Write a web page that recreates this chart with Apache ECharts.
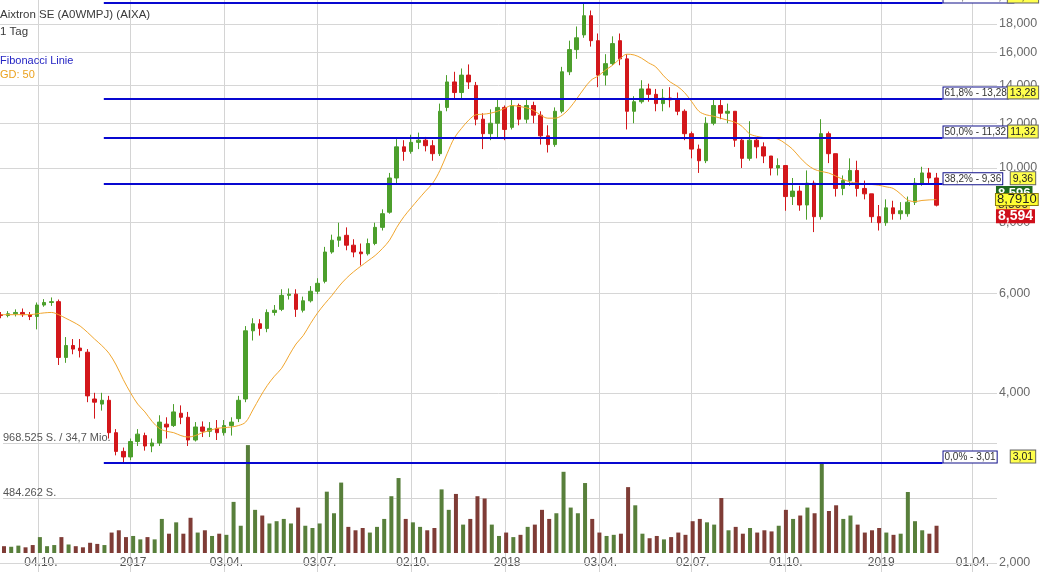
<!DOCTYPE html>
<html><head><meta charset="utf-8">
<script src="https://cdn.jsdelivr.net/npm/echarts@6/dist/echarts.min.js"></script>
<style>html,body{margin:0;padding:0;background:#fff}#c{width:1040px;height:572px}</style>
</head><body><div id="c"></div>
<script>
// ---- data (weekly samples) ----
const dates = [
'2016-08-29','2016-09-05','2016-09-12','2016-09-19','2016-09-26','2016-10-03','2016-10-10','2016-10-17','2016-10-24','2016-10-31',
'2016-11-07','2016-11-14','2016-11-21','2016-11-28','2016-12-05','2016-12-12','2016-12-19','2016-12-26','2017-01-02','2017-01-09',
'2017-01-16','2017-01-23','2017-01-30','2017-02-06','2017-02-13','2017-02-20','2017-02-27','2017-03-06','2017-03-13','2017-03-20',
'2017-03-27','2017-04-03','2017-04-10','2017-04-17','2017-04-24','2017-05-01','2017-05-08','2017-05-15','2017-05-22','2017-05-29',
'2017-06-05','2017-06-12','2017-06-19','2017-06-26','2017-07-03','2017-07-10','2017-07-17','2017-07-24','2017-07-31','2017-08-07',
'2017-08-14','2017-08-21','2017-08-28','2017-09-04','2017-09-11','2017-09-18','2017-09-25','2017-10-02','2017-10-09','2017-10-16',
'2017-10-23','2017-10-30','2017-11-06','2017-11-13','2017-11-20','2017-11-27','2017-12-04','2017-12-11','2017-12-18','2017-12-25',
'2018-01-01','2018-01-08','2018-01-15','2018-01-22','2018-01-29','2018-02-05','2018-02-12','2018-02-19','2018-02-26','2018-03-05',
'2018-03-12','2018-03-19','2018-03-26','2018-04-02','2018-04-09','2018-04-16','2018-04-23','2018-04-30','2018-05-07','2018-05-14',
'2018-05-21','2018-05-28','2018-06-04','2018-06-11','2018-06-18','2018-06-25','2018-07-02','2018-07-09','2018-07-16','2018-07-23',
'2018-07-30','2018-08-06','2018-08-13','2018-08-20','2018-08-27','2018-09-03','2018-09-10','2018-09-17','2018-09-24','2018-10-01',
'2018-10-08','2018-10-15','2018-10-22','2018-10-29','2018-11-05','2018-11-12','2018-11-19','2018-11-26','2018-12-03','2018-12-10',
'2018-12-17','2018-12-24','2018-12-31','2019-01-07','2019-01-14','2019-01-21','2019-01-28','2019-02-04','2019-02-11','2019-02-18',
'2019-02-25'];
const open = [
5.50,5.48,5.52,5.55,5.50,5.46,5.72,5.78,5.80,4.62,
4.85,4.80,4.72,3.90,3.82,3.88,3.40,3.15,3.08,3.28,
3.36,3.22,3.26,3.52,3.50,3.68,3.62,3.30,3.48,3.42,
3.46,3.40,3.50,3.60,3.90,5.15,5.30,5.20,5.55,5.62,
5.95,5.98,5.60,5.82,6.05,6.30,7.10,7.45,7.60,7.30,
7.10,7.05,7.35,7.85,8.35,9.60,10.90,10.70,11.10,11.20,
10.95,10.60,12.80,14.20,13.60,14.60,14.00,12.20,11.50,12.00,
12.80,11.80,12.90,12.20,12.90,12.40,11.40,11.00,12.60,14.80,
16.20,17.20,18.60,16.80,14.60,15.30,16.80,15.60,12.60,13.10,
13.80,13.50,13.00,13.30,13.20,12.60,11.50,10.80,10.30,12.00,
12.90,12.50,12.60,11.20,10.40,11.20,10.90,10.50,10.00,10.10,
8.90,9.10,8.60,9.40,8.20,11.50,10.60,9.20,9.50,9.90,
9.20,9.00,8.20,8.00,8.50,8.30,8.30,8.70,9.40,9.80,
9.60];
const close = [
5.48,5.52,5.55,5.50,5.46,5.72,5.78,5.80,4.62,4.85,
4.78,4.75,3.95,3.85,3.88,3.40,3.15,3.08,3.28,3.38,
3.22,3.26,3.55,3.48,3.70,3.62,3.30,3.48,3.42,3.46,
3.40,3.50,3.55,3.88,5.15,5.30,5.20,5.55,5.60,5.95,
5.98,5.62,5.82,6.05,6.25,7.10,7.45,7.55,7.30,7.10,
7.05,7.35,7.85,8.30,9.60,10.90,10.70,11.10,11.20,10.95,
10.60,12.60,14.20,13.60,14.60,14.20,12.20,11.50,12.00,12.80,
11.70,12.90,12.20,12.90,12.40,11.40,11.00,12.60,14.80,16.20,
17.00,18.60,16.80,14.60,15.30,16.60,15.60,12.60,13.10,13.80,
13.50,13.00,13.30,13.20,12.60,11.50,10.80,10.30,12.00,12.90,
12.50,12.60,11.20,10.40,11.20,10.90,10.50,10.00,10.10,8.90,
9.10,8.60,9.40,8.20,11.50,10.60,9.20,9.50,9.90,9.20,
9.00,8.20,8.00,8.50,8.30,8.40,8.70,9.40,9.80,9.60,
8.594];
const low = [
5.42,5.44,5.46,5.45,5.38,5.18,5.68,5.70,4.48,4.52,
4.68,4.62,3.85,3.60,3.72,3.32,3.10,3.01,3.04,3.22,
3.16,3.14,3.22,3.32,3.48,3.52,3.22,3.28,3.34,3.34,
3.30,3.36,3.36,3.55,3.85,4.95,5.05,5.12,5.48,5.58,
5.85,5.45,5.55,5.78,5.98,6.25,7.05,7.25,7.15,6.95,
6.72,7.00,7.30,7.75,8.30,9.40,10.30,10.60,10.80,10.70,
10.30,10.50,12.60,13.30,13.30,13.80,11.90,10.80,11.20,11.30,
11.20,11.70,11.90,12.00,12.00,11.00,10.65,10.90,12.50,14.60,
15.60,17.00,16.40,13.90,14.00,15.20,15.20,11.70,12.00,13.00,
13.10,12.60,12.60,12.80,12.40,11.20,10.40,9.80,10.20,11.90,
12.20,12.00,10.90,10.00,10.30,10.40,10.20,9.70,9.70,8.40,
8.60,8.40,8.10,7.70,8.10,10.20,8.90,8.95,9.30,8.90,
8.80,8.00,7.75,7.90,8.10,8.10,8.20,8.60,9.30,9.40,
8.55];
const high = [
5.56,5.58,5.62,5.64,5.56,5.78,5.86,5.90,5.85,5.02,
4.98,4.98,4.78,4.00,4.00,3.95,3.45,3.20,3.32,3.45,
3.40,3.32,3.65,3.62,3.82,3.80,3.70,3.55,3.56,3.55,
3.58,3.58,3.62,3.95,5.25,5.42,5.40,5.62,5.72,6.10,
6.12,6.10,5.92,6.18,6.38,7.25,7.62,8.00,7.85,7.48,
7.35,7.50,8.00,8.45,9.80,11.25,11.20,11.45,11.55,11.35,
11.20,13.00,14.60,14.80,15.00,15.25,14.20,12.50,12.70,13.30,
12.90,13.30,13.00,13.30,13.10,12.60,11.90,12.80,15.10,16.80,
17.80,19.63,19.00,17.30,15.90,17.10,17.30,15.90,13.40,14.30,
14.10,13.80,13.80,13.90,13.60,12.70,11.60,11.00,12.30,13.20,
13.20,13.00,12.60,11.30,12.10,11.30,11.10,10.50,10.40,10.10,
9.60,9.30,9.90,9.50,12.20,11.60,10.60,9.70,10.40,10.30,
9.50,9.00,8.60,8.80,8.75,8.70,8.90,9.60,10.05,10.00,
9.80];
const volume = [
60,55,65,50,70,140,60,70,140,75,
60,50,90,80,70,180,200,140,150,120,
140,120,300,170,270,170,310,180,200,150,
170,160,450,240,950,380,330,260,280,300,
260,400,240,220,260,540,350,620,230,200,
220,180,230,300,500,660,300,270,230,200,
220,560,380,520,250,300,500,480,250,150,
180,140,160,230,250,380,300,350,715,400,
350,616,300,180,150,160,170,580,420,170,
130,150,120,140,180,160,280,300,270,250,
484,200,230,170,220,180,200,190,240,380,
300,330,400,350,800,370,420,300,330,250,
180,200,220,180,160,170,537,280,200,170,
240].map(v => v * 1000);
const ma50 = [
5.5,5.5,5.5,5.5,5.5,5.52,5.54,5.55,5.5,5.42,
5.34,5.25,5.12,4.98,4.85,4.70,4.48,4.22,4.0,3.82,
3.70,3.56,3.46,3.42,3.40,3.36,3.34,3.36,3.40,3.43,
3.46,3.47,3.48,3.50,3.55,3.73,3.93,4.12,4.28,4.42,
4.65,4.88,5.05,5.3,5.54,5.75,5.95,6.18,6.38,6.55,
6.7,6.85,7.0,7.2,7.45,7.85,8.2,8.5,8.8,9.1,
9.4,9.9,10.6,11.3,11.75,12.15,12.42,12.45,12.5,12.6,
12.75,12.9,12.85,12.78,12.65,12.4,12.25,12.25,12.4,12.75,
13.25,13.8,14.3,14.55,14.9,15.2,15.6,15.9,15.85,15.65,
15.35,15.1,14.6,14.2,13.95,13.6,13.1,12.6,12.42,12.35,
12.25,12.15,12.05,11.85,11.5,11.38,11.32,11.3,11.25,11.05,
10.8,10.45,10.15,9.95,9.86,9.8,9.68,9.55,9.45,9.4,
9.38,9.35,9.32,9.26,9.2,9.0,8.78,8.72,8.76,8.78,
8.791];

const priceTicks = [2, 4, 6, 8, 10, 12, 14, 16, 18];
const fibLevels = [3.01, 9.36, 11.32, 13.28, 19.63];
const fibNames = ['0,0%', '38,2%', '50,0%', '61,8%', '100,0%'];
const fibStart = '2016-12-07', fibEnd = '2019-03-03';
const quarterDates = ['2016-10-04','2017-01-02','2017-04-03','2017-07-03','2017-10-02','2018-01-02','2018-04-03','2018-07-02','2018-10-01','2019-01-02','2019-04-01'];
const quarterLabels = ['04.10.','2017','03.04.','03.07.','02.10.','2018','03.04.','02.07.','01.10.','2019','01.04.'];
const volTicks = [484262.5, 968525];
const volLabels = ['484.262 S.', '968.525 S. / 34,7 Mio.'];
const lastClose = 8.594, lastMA = 8.791, lastGreen = 8.596;
const titleLines = ['Aixtron SE (A0WMPJ) (AIXA)', '1 Tag', 'Fibonacci Linie', 'GD: 50'];

// ---- helpers ----
const P = s => { const p = s.split('-').map(Number); return Date.UTC(p[0], p[1] - 1, p[2]); };
const fmt3 = v => v.toFixed(3).replace('.', ',');
const fmt2 = v => v.toFixed(2).replace('.', ',');
const font = 'Liberation Sans, Arial, sans-serif';
const xMin = P('2016-08-28'), xMax = P('2019-04-25');
const xEdgeA = P('2019-04-20'), xEdgeB = P('2019-04-24');
const qTs = quarterDates.map(P);
const NOLINE = { color: 'rgba(0,0,0,0)', width: 1, opacity: 1 };

const candle = dates.map((d, i) => [P(d), open[i], close[i], low[i], high[i]]);
const maData = dates.map((d, i) => [P(d), ma50[i]]);
const volData = dates.map((d, i) => [P(d), volume[i]]);

const fibLines = fibLevels.map((v, i) => [
  { coord: [P(fibStart), v],
    lineStyle: { color: '#0808d0', width: 2, type: 'solid', opacity: 1 },
    label: { show: true, position: 'end', distance: 1, formatter: fibNames[i] + ' - ' + fmt2(v),
      align: 'left', verticalAlign: 'bottom', color: '#333', fontSize: 10, fontFamily: font,
      backgroundColor: '#fff', borderColor: '#10108a', borderWidth: 1, padding: [1, 1, 0, 1] } },
  { coord: [P(fibEnd), v] }
]);
const fibBoxes = fibLevels.map((v, i) => [
  { coord: [xEdgeA, v], lineStyle: NOLINE,
    label: { show: true, position: 'end', distance: 27, formatter: fmt2(v), align: 'center', verticalAlign: 'bottom',
      color: '#222', fontSize: 10.5, fontFamily: font, backgroundColor: '#ffff4d', borderColor: '#666', borderWidth: 1, padding: [1, 2, 0, 2] } },
  { coord: [xEdgeB, v] }
]);
const lastBoxes = [
  [{ coord: [xEdgeA, lastGreen], lineStyle: NOLINE,
     label: { show: true, position: 'end', distance: 0, align: 'left', verticalAlign: 'bottom',
       formatter: '{g|' + fmt3(lastGreen) + '}\n{s|}',
       rich: { g: { backgroundColor: '#1e6a1e', color: '#fff', fontWeight: 'bold', fontSize: 13, lineHeight: 12, padding: [1, 2, 0, 2], fontFamily: font },
               s: { lineHeight: 6, height: 6 } } } },
   { coord: [xEdgeB, lastGreen] }],
  [{ coord: [xEdgeA, lastGreen], lineStyle: NOLINE,
     label: { show: true, position: 'end', distance: 0, align: 'left', verticalAlign: 'middle',
       formatter: fmt3(lastGreen), color: '#333', fontSize: 12, lineHeight: 11, fontFamily: font,
       backgroundColor: '#fbe44a', padding: [0, 2] } },
   { coord: [xEdgeB, lastGreen] }],
  [{ coord: [xEdgeA, lastMA], lineStyle: NOLINE,
     label: { show: true, position: 'end', distance: 0, align: 'left', verticalAlign: 'middle',
       formatter: lastMA.toFixed(4).replace('.', ','), color: '#222', fontSize: 13, lineHeight: 11, fontFamily: font,
       backgroundColor: '#ffff33', borderColor: '#8a7a10', borderWidth: 1, padding: [0, 1] } },
   { coord: [xEdgeB, lastMA] }],
  [{ coord: [xEdgeA, lastClose], lineStyle: NOLINE,
     label: { show: true, position: 'end', distance: 0, align: 'left', verticalAlign: 'top',
       formatter: '{s|}\n{r|' + fmt3(lastClose) + '}',
       rich: { r: { backgroundColor: '#cf0f1b', color: '#fff', fontWeight: 'bold', fontSize: 14, lineHeight: 14, padding: [0, 2], fontFamily: font },
               s: { lineHeight: 4, height: 4 } } } },
   { coord: [xEdgeB, lastClose] }]
];

const gridLines = priceTicks.map(v => ({ yAxis: v, label: { formatter: fmt3(v) } }));

const chart = echarts.init(document.getElementById('c'), null, { renderer: 'canvas' });
chart.setOption({
  animation: false,
  backgroundColor: '#fff',
  textStyle: { fontFamily: font },
  title: [
    { text: titleLines[0], left: 0, top: 9, padding: 0, textStyle: { fontSize: 11.5, fontWeight: 'normal', color: '#3a3a3a', fontFamily: font } },
    { text: titleLines[1], left: 0, top: 26, padding: 0, textStyle: { fontSize: 11.5, fontWeight: 'normal', color: '#3a3a3a', fontFamily: font } },
    { text: titleLines[2], left: 0, top: 55, padding: 0, textStyle: { fontSize: 11, fontWeight: 'normal', color: '#2424c4', fontFamily: font } },
    { text: titleLines[3], left: 0, top: 69, padding: 0, textStyle: { fontSize: 11, fontWeight: 'normal', color: '#eba21f', fontFamily: font } }
  ],
  grid: [
    { left: 0, right: 43, top: 0, bottom: 0 },
    { left: 0, right: 43, top: 443, bottom: 19 }
  ],
  xAxis: [
    { type: 'value', gridIndex: 0, min: xMin, max: xMax,
      axisLine: { show: false }, axisLabel: { show: false },
      axisTick: { show: false, customValues: qTs },
      splitLine: { show: true, lineStyle: { color: '#d4d4d4', width: 1 } } },
    { type: 'value', gridIndex: 1, min: xMin, max: xMax,
      axisLine: { show: false }, axisTick: { show: false, customValues: qTs },
      splitLine: { show: false },
      axisLabel: { show: true, customValues: qTs, margin: 4, color: '#555', fontSize: 12, fontFamily: font,
        formatter: v => { const i = qTs.findIndex(t => Math.abs(t - v) < 3600000); return i >= 0 ? quarterLabels[i] : ''; } } }
  ],
  yAxis: [
    { type: 'log', logBase: 10, gridIndex: 0, min: 1.927, max: 19.83, position: 'right',
      axisLine: { show: false }, axisTick: { show: false }, axisLabel: { show: false }, splitLine: { show: false } },
    { type: 'value', gridIndex: 1, min: 0, max: 968525, position: 'left',
      axisLine: { show: false },
      axisTick: { show: false, customValues: volTicks },
      splitLine: { show: true, lineStyle: { color: '#d4d4d4', width: 1 } },
      axisLabel: { show: true, customValues: volTicks, inside: true, margin: 0, verticalAlign: 'bottom',
        color: '#555', fontSize: 11, fontFamily: font,
        formatter: v => (v > 700000 ? volLabels[1] : volLabels[0]) } }
  ],
  series: [
    { type: 'candlestick', name: 'Aixtron', xAxisIndex: 0, yAxisIndex: 0, data: candle,
      encode: { x: 0, y: [1, 2, 3, 4] }, barWidth: 4,
      itemStyle: { color: '#4c9f2c', color0: '#d3171b', borderColor: '#4c9f2c', borderColor0: '#d3171b', borderWidth: 1 },
      markLine: { silent: true, z: 5, symbol: ['none', 'none'], animation: false,
        data: fibLines.concat(fibBoxes, lastBoxes) } },
    { type: 'line', name: 'GD 50', xAxisIndex: 0, yAxisIndex: 0, data: maData, smooth: 0.35,
      showSymbol: false, symbol: 'none', lineStyle: { color: '#f1a62e', width: 1 }, z: 3,
      markLine: { silent: true, z: 1, symbol: ['none', 'none'], animation: false,
        lineStyle: { color: '#d6d6d6', width: 1, type: 'solid' },
        label: { show: true, position: 'end', distance: 2, color: '#6a6a6a', fontSize: 12.5, fontFamily: font },
        data: gridLines } },
    { type: 'bar', name: 'Volumen', xAxisIndex: 1, yAxisIndex: 1, data: volData, barWidth: 4,
      itemStyle: { color: p => (close[p.dataIndex] >= open[p.dataIndex] ? '#587f3b' : '#7f3c36') } }
  ]
});
</script></body></html>
